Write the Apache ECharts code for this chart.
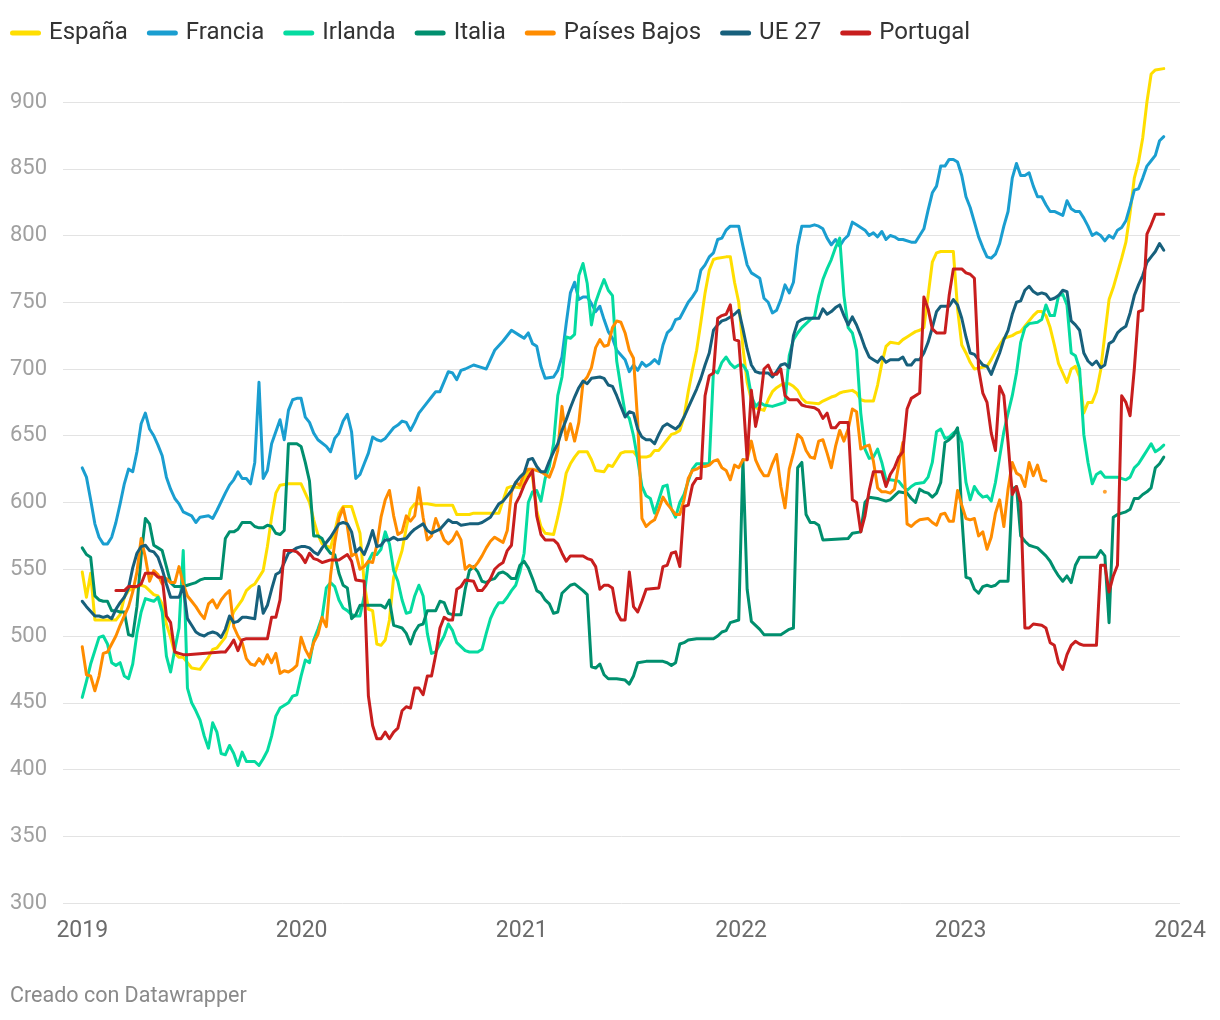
<!DOCTYPE html>
<html>
<head>
<meta charset="utf-8">
<script src="https://cdn.jsdelivr.net/npm/echarts@6/dist/echarts.min.js"></script>
<style>html,body{margin:0;padding:0;background:#fff}#chart{width:1220px;height:1020px}</style>
</head>
<body>
<div id="chart"></div>
<script>
// Week index (weeks since 1 Jan 2019) and value
const seriesNames = ['España', 'Francia', 'Irlanda', 'Italia', 'Países Bajos', 'UE 27', 'Portugal'];
const yearTicks = [2019, 2020, 2021, 2022, 2023, 2024];
const yTicks = [300, 350, 400, 450, 500, 550, 600, 650, 700, 750, 800, 850, 900];
const footerText = 'Creado con Datawrapper';

const espana = [[0,548],[1,529],[2,547],[3,512],[8,512],[9,516],[10,529],[11,534],[13,537],[14,538],[15,537],[16,534],[17,531],[18,530],[19,524],[20,509],[21,499],[22,487],[23,484],[24,484],[26,476],[28,475],[30,484],[31,490],[32,491],[34,499],[35,510],[36,518],[38,527],[39,534],[40,537],[41,539],[43,549],[44,567],[45,589],[46,607],[47,613],[49,614],[52,614],[53,607],[54,600],[55,587],[56,576],[57,569],[59,566],[60,578],[61,592],[62,597],[64,597],[65,587],[66,577],[67,540],[68,520],[69,519],[70,494],[71,493],[72,497],[73,512],[74,544],[76,564],[77,581],[78,595],[79,599],[82,599],[84,598],[88,598],[89,591],[92,591],[93,592],[99,592],[101,611],[102,612],[104,611],[105,617],[106,624],[107,619],[108,594],[109,582],[110,577],[112,576],[113,589],[114,604],[115,622],[116,629],[117,634],[118,638],[120,638],[121,632],[122,624],[124,623],[125,628],[126,627],[127,632],[128,637],[129,638],[131,638],[132,634],[134,634],[135,635],[136,639],[137,639],[138,643],[139,647],[140,651],[141,652],[142,654],[143,664],[144,683],[145,699],[146,714],[147,735],[148,757],[149,774],[150,782],[151,783],[153,784],[154,784],[155,765],[156,750],[157,716],[158,690],[159,677],[160,671],[162,669],[163,677],[164,683],[165,686],[166,688],[167,689],[168,689],[169,687],[170,684],[171,678],[172,675],[175,674],[176,676],[178,679],[179,680],[180,682],[181,683],[183,684],[184,682],[185,677],[186,676],[188,676],[189,688],[190,704],[191,717],[192,720],[194,719],[195,722],[196,724],[197,726],[198,728],[199,729],[200,731],[201,755],[202,780],[203,787],[204,788],[207,788],[208,745],[209,718],[210,712],[211,705],[212,700],[215,702],[216,707],[217,713],[218,718],[219,723],[221,725],[222,727],[223,728],[224,732],[225,736],[226,740],[227,743],[228,743],[229,740],[230,731],[231,718],[232,704],[233,697],[234,690],[235,700],[236,702],[237,694],[238,667],[239,675],[240,675],[241,683],[242,699],[243,726],[244,752],[245,761],[246,772],[247,783],[248,795],[249,817],[250,843],[251,855],[252,873],[253,900],[254,921],[255,924],[257,925]];

const francia = [[0,626],[1,619],[2,602],[3,584],[4,574],[5,569],[6,569],[7,574],[8,585],[9,599],[10,614],[11,625],[12,623],[13,638],[14,659],[15,667],[16,655],[17,650],[18,643],[19,635],[20,619],[21,610],[22,603],[23,599],[24,593],[26,590],[27,585],[28,589],[30,590],[31,588],[32,594],[34,607],[35,613],[36,617],[37,623],[38,618],[39,618],[40,614],[41,630],[42,690],[43,618],[44,624],[45,644],[47,662],[48,647],[49,669],[50,677],[51,678],[52,678],[53,664],[54,660],[55,652],[56,647],[58,642],[59,638],[60,648],[61,652],[62,661],[63,666],[64,653],[65,618],[66,621],[67,629],[68,637],[69,649],[70,647],[71,646],[72,648],[74,656],[75,658],[76,661],[77,660],[78,654],[79,660],[80,667],[82,675],[83,679],[84,683],[85,683],[87,698],[88,697],[89,692],[90,699],[91,700],[93,703],[95,701],[96,700],[97,707],[98,714],[100,721],[102,729],[104,725],[105,723],[106,727],[107,719],[108,717],[109,702],[110,693],[112,694],[113,699],[114,709],[115,734],[116,757],[117,765],[118,752],[119,754],[120,754],[121,749],[122,743],[123,747],[124,737],[125,728],[126,723],[127,714],[129,707],[130,698],[131,703],[132,699],[133,705],[134,702],[135,704],[136,707],[137,704],[138,718],[139,727],[140,730],[141,737],[142,738],[143,744],[144,750],[145,754],[146,759],[147,774],[148,778],[149,784],[150,787],[151,797],[152,798],[153,804],[154,807],[156,807],[157,792],[158,778],[159,772],[160,770],[161,768],[162,753],[163,750],[164,742],[165,744],[166,752],[167,763],[168,757],[169,765],[170,792],[171,807],[173,807],[174,808],[175,807],[176,805],[177,798],[178,793],[179,797],[180,792],[181,797],[182,800],[183,810],[184,808],[185,806],[186,804],[187,800],[188,802],[189,799],[190,803],[191,797],[192,800],[193,799],[194,797],[195,797],[197,795],[198,795],[199,800],[200,805],[201,819],[202,832],[203,837],[204,852],[205,852],[206,857],[207,857],[208,855],[209,845],[210,829],[211,821],[212,810],[213,799],[214,791],[215,784],[216,783],[217,786],[218,794],[219,807],[220,818],[221,843],[222,854],[223,845],[224,845],[225,847],[226,837],[227,829],[228,829],[229,823],[230,818],[231,818],[233,815],[234,826],[235,820],[236,818],[237,818],[238,813],[239,807],[240,800],[241,802],[242,800],[243,796],[244,800],[245,798],[246,804],[247,806],[248,811],[249,822],[250,834],[251,835],[252,843],[253,852],[254,856],[255,860],[256,871],[257,874]];

const irlanda = [[0,454],[1,466],[2,479],[4,499],[5,500],[6,494],[7,480],[8,478],[9,480],[10,470],[11,468],[12,479],[13,502],[14,518],[15,528],[16,527],[17,526],[18,529],[19,518],[20,485],[21,473],[22,490],[23,506],[24,564],[25,461],[26,450],[27,444],[28,437],[29,425],[30,416],[31,435],[32,428],[33,412],[34,411],[35,418],[36,412],[37,403],[38,413],[39,406],[41,406],[42,403],[43,408],[44,414],[45,425],[46,440],[47,446],[49,450],[50,455],[51,456],[52,470],[53,482],[54,480],[55,497],[56,505],[57,514],[58,536],[59,540],[60,537],[61,527],[62,521],[63,519],[64,516],[65,515],[66,515],[67,530],[68,556],[69,562],[70,561],[71,565],[72,578],[73,569],[74,549],[75,541],[76,527],[77,517],[78,518],[79,530],[80,538],[81,530],[82,502],[83,487],[84,488],[85,494],[86,500],[87,509],[88,504],[89,495],[90,492],[91,489],[92,488],[94,488],[95,490],[96,502],[97,513],[98,520],[99,525],[100,525],[101,529],[102,534],[103,538],[104,548],[105,562],[106,600],[107,608],[108,609],[109,601],[110,618],[111,627],[112,644],[113,680],[114,694],[115,724],[116,723],[117,726],[118,770],[119,779],[120,764],[121,733],[122,750],[123,759],[124,767],[125,759],[126,755],[127,706],[128,686],[129,667],[130,663],[131,650],[132,632],[133,612],[134,605],[135,603],[136,592],[137,602],[138,612],[139,613],[140,595],[141,589],[142,600],[143,606],[144,616],[145,625],[146,629],[149,629],[150,699],[151,697],[152,705],[153,709],[154,704],[155,701],[156,703],[157,703],[158,698],[159,680],[160,672],[161,675],[162,673],[164,672],[166,674],[167,675],[168,710],[169,722],[170,727],[171,731],[172,734],[173,737],[174,739],[175,755],[176,767],[177,775],[178,782],[179,791],[180,798],[181,755],[182,731],[183,727],[184,714],[185,667],[186,640],[187,633],[188,634],[189,640],[190,630],[191,617],[192,617],[194,616],[195,612],[196,609],[197,612],[198,614],[200,615],[201,619],[202,630],[203,653],[204,655],[205,648],[206,649],[207,652],[208,654],[209,645],[210,615],[211,602],[212,612],[213,607],[214,604],[215,605],[216,601],[217,615],[218,634],[219,653],[220,667],[221,680],[222,697],[223,720],[224,731],[225,734],[227,735],[228,737],[229,748],[230,740],[231,740],[232,755],[233,756],[234,748],[235,712],[236,710],[237,700],[238,651],[239,630],[240,614],[241,621],[242,623],[243,619],[246,619],[248,617],[249,619],[250,626],[251,629],[252,634],[253,639],[254,644],[255,638],[256,640],[257,643]];

const italia = [[0,566],[1,561],[2,559],[3,530],[4,527],[5,526],[6,526],[7,519],[8,519],[9,518],[10,518],[11,501],[12,500],[13,522],[14,560],[15,588],[16,584],[17,568],[18,566],[19,564],[20,552],[21,540],[22,537],[24,537],[25,538],[26,539],[27,540],[28,542],[29,543],[33,543],[34,573],[35,578],[36,578],[37,580],[38,585],[40,585],[41,582],[42,581],[43,581],[44,583],[45,582],[46,577],[47,576],[48,579],[49,644],[51,644],[52,642],[53,630],[54,616],[55,575],[56,575],[57,573],[58,566],[59,562],[60,561],[61,547],[62,538],[63,536],[64,513],[65,516],[66,523],[68,523],[70,523],[71,523],[72,521],[73,527],[74,508],[75,507],[76,506],[77,502],[78,494],[79,503],[80,508],[81,509],[82,519],[84,519],[85,526],[86,525],[87,517],[88,516],[90,516],[91,535],[92,549],[93,552],[94,548],[95,541],[96,540],[97,542],[98,543],[99,547],[100,548],[101,546],[102,543],[103,543],[104,553],[105,556],[106,551],[107,543],[108,534],[109,532],[110,527],[111,524],[112,517],[113,518],[114,532],[115,535],[116,538],[117,539],[119,534],[120,531],[121,477],[122,476],[123,479],[124,471],[125,468],[127,468],[129,467],[130,464],[131,470],[132,480],[134,481],[136,481],[138,481],[139,480],[140,478],[141,480],[142,494],[143,495],[144,497],[146,498],[148,498],[150,498],[151,500],[152,503],[153,504],[154,510],[156,512],[157,632],[158,535],[159,511],[160,508],[161,505],[162,501],[166,501],[167,503],[168,505],[169,506],[170,626],[171,630],[172,591],[173,585],[174,585],[175,583],[176,572],[182,573],[183,577],[185,578],[186,600],[187,604],[189,603],[190,602],[191,601],[192,602],[193,605],[194,608],[196,607],[197,603],[198,600],[199,610],[200,608],[201,607],[202,604],[203,607],[204,615],[205,645],[206,647],[207,650],[208,656],[209,590],[210,544],[211,543],[212,535],[213,532],[214,537],[215,538],[216,537],[217,538],[218,541],[220,541],[221,610],[222,612],[223,575],[224,571],[225,568],[226,567],[227,566],[228,563],[229,560],[230,556],[231,550],[232,545],[233,541],[234,545],[235,540],[236,553],[237,559],[241,559],[242,564],[243,560],[244,510],[245,589],[246,591],[247,592],[248,593],[249,595],[250,603],[251,603],[252,606],[253,608],[254,611],[255,626],[256,629],[257,634]];

const paisesBajos = [[0,492],[1,471],[2,470],[3,459],[4,470],[5,487],[6,488],[7,494],[8,500],[9,508],[10,515],[11,522],[12,533],[13,548],[14,573],[15,559],[16,541],[17,549],[18,546],[19,539],[20,543],[21,540],[22,540],[23,552],[24,539],[25,530],[26,526],[27,522],[28,517],[29,513],[30,524],[31,527],[32,521],[33,527],[34,531],[35,534],[36,507],[37,500],[38,495],[39,483],[40,479],[41,478],[42,483],[43,479],[44,486],[45,480],[46,487],[47,472],[48,474],[49,473],[50,475],[51,478],[52,499],[53,490],[54,484],[55,495],[56,501],[57,514],[58,507],[59,545],[60,570],[61,588],[62,596],[63,582],[64,560],[65,562],[66,550],[67,552],[68,556],[69,555],[70,568],[71,589],[72,602],[73,609],[74,590],[75,576],[76,578],[77,590],[78,586],[79,590],[80,611],[81,589],[82,572],[83,575],[84,588],[85,580],[86,572],[87,569],[88,572],[89,578],[90,572],[91,550],[92,553],[93,551],[94,555],[95,560],[96,566],[97,571],[98,574],[99,572],[100,570],[101,579],[102,608],[103,615],[104,613],[105,622],[106,625],[107,625],[108,624],[109,623],[110,621],[111,619],[112,627],[113,639],[114,672],[115,647],[116,659],[117,646],[118,660],[119,690],[120,694],[121,701],[122,716],[123,722],[124,717],[125,718],[126,731],[127,736],[128,735],[129,727],[130,714],[131,708],[132,660],[133,588],[134,582],[135,585],[136,587],[137,595],[138,604],[139,599],[140,595],[141,591],[142,591],[143,602],[144,618],[145,624],[146,625],[147,627],[148,627],[149,628],[150,631],[151,632],[152,626],[153,624],[154,617],[155,628],[156,626],[157,632],[158,632],[159,646],[160,632],[161,625],[162,620],[163,620],[164,629],[165,636],[166,612],[167,596],[168,625],[169,637],[170,651],[171,648],[172,639],[173,634],[174,633],[175,646],[176,647],[177,637],[178,626],[179,642],[180,654],[181,646],[182,655],[183,670],[184,668],[185,640],[186,642],[187,643],[188,631],[189,611],[190,608],[191,608],[192,607],[193,610],[194,628],[195,645],[196,584],[197,582],[198,585],[199,587],[201,588],[202,585],[203,583],[204,591],[205,592],[206,586],[207,586],[208,609],[209,598],[210,588],[211,587],[212,588],[213,575],[214,578],[215,565],[216,574],[217,592],[218,602],[219,582],[220,610],[221,630],[222,622],[223,620],[224,612],[225,630],[226,620],[227,628],[228,617],[229,616]];
const paisesBajosSuelto = [[243,608]];

const ue27 = [[0,526],[1,522],[3,515],[4,515],[5,514],[6,515],[7,513],[8,520],[9,525],[10,529],[11,536],[12,551],[13,562],[14,567],[15,568],[16,564],[17,563],[18,559],[19,550],[20,539],[21,529],[23,529],[24,537],[25,513],[26,508],[27,503],[28,501],[29,500],[30,502],[31,503],[32,502],[33,499],[34,505],[35,515],[36,510],[37,511],[38,514],[39,514],[41,513],[42,537],[43,517],[44,523],[45,535],[46,546],[47,548],[48,555],[49,562],[50,564],[51,566],[52,567],[53,567],[54,566],[55,563],[56,561],[57,566],[58,570],[59,574],[60,579],[61,584],[62,585],[63,584],[64,578],[65,563],[66,566],[67,561],[68,569],[69,579],[70,567],[71,568],[72,572],[73,572],[74,574],[75,572],[77,573],[78,577],[79,580],[80,582],[81,584],[82,579],[83,577],[85,580],[87,587],[88,585],[89,585],[90,583],[92,584],[94,584],[95,585],[97,589],[98,594],[99,599],[100,601],[101,605],[102,609],[103,615],[104,619],[105,622],[106,632],[107,633],[108,627],[109,623],[110,623],[111,631],[112,638],[113,644],[114,654],[115,662],[116,671],[117,679],[118,686],[119,691],[120,689],[121,693],[123,694],[124,693],[125,688],[126,687],[127,680],[128,672],[129,664],[130,668],[131,667],[132,655],[133,649],[134,647],[135,647],[136,644],[137,651],[138,657],[139,659],[140,657],[141,655],[142,658],[143,664],[144,671],[145,678],[146,685],[147,693],[148,703],[149,712],[150,729],[151,733],[152,736],[153,737],[154,739],[155,741],[156,744],[157,730],[158,715],[159,703],[160,698],[161,697],[163,697],[164,694],[165,698],[166,703],[167,704],[168,701],[169,725],[170,735],[171,737],[172,738],[175,738],[176,745],[177,741],[178,743],[179,746],[180,748],[181,740],[182,733],[183,739],[184,733],[185,725],[186,716],[187,709],[188,707],[189,705],[190,709],[191,705],[192,707],[194,707],[195,709],[196,703],[197,703],[198,707],[199,707],[200,712],[201,720],[202,731],[203,743],[204,747],[206,747],[207,752],[208,748],[209,738],[210,724],[211,712],[212,711],[213,707],[214,703],[215,702],[216,696],[217,704],[218,712],[219,722],[220,729],[221,741],[222,750],[223,751],[224,759],[225,762],[226,758],[227,756],[228,757],[229,756],[230,752],[231,753],[232,755],[233,759],[234,758],[235,736],[236,733],[237,729],[238,712],[239,706],[240,703],[241,706],[242,701],[243,703],[244,719],[245,721],[246,727],[247,730],[248,732],[249,742],[250,755],[251,763],[252,770],[253,780],[254,784],[255,788],[256,794],[257,789]];

const portugal = [[8,534],[10,534],[11,537],[13,537],[14,539],[15,547],[17,547],[18,544],[19,544],[20,515],[21,510],[22,488],[23,487],[24,486],[25,486],[33,488],[34,488],[35,492],[36,497],[37,489],[38,497],[39,498],[44,498],[45,514],[46,514],[47,527],[48,564],[50,564],[51,563],[52,560],[53,555],[54,562],[55,558],[56,557],[57,555],[58,556],[59,557],[61,557],[62,559],[63,561],[64,556],[65,542],[67,541],[68,455],[69,433],[70,423],[71,423],[72,428],[73,423],[74,428],[75,431],[76,444],[77,447],[78,446],[79,461],[80,461],[81,456],[82,470],[83,470],[84,486],[85,506],[86,514],[87,512],[88,512],[89,535],[90,537],[91,542],[93,541],[94,534],[95,534],[96,538],[97,543],[98,550],[99,553],[100,555],[101,564],[102,568],[103,599],[104,605],[105,613],[106,619],[107,624],[108,590],[109,576],[110,572],[112,572],[113,569],[114,562],[115,556],[116,560],[119,560],[120,558],[121,557],[122,552],[123,535],[124,538],[125,538],[126,536],[127,518],[128,512],[129,512],[130,548],[131,522],[132,518],[133,526],[134,535],[137,536],[138,552],[139,553],[140,562],[141,563],[142,552],[143,597],[144,598],[145,613],[146,618],[147,618],[148,680],[149,695],[150,697],[151,738],[152,740],[153,741],[154,748],[155,722],[156,721],[157,680],[158,632],[159,684],[160,657],[161,672],[162,700],[163,703],[164,696],[165,696],[166,700],[167,680],[168,677],[170,677],[171,673],[172,672],[174,671],[175,669],[176,663],[177,667],[178,656],[179,656],[180,660],[182,660],[183,602],[184,600],[185,578],[186,590],[187,609],[188,623],[190,623],[191,612],[192,621],[193,626],[194,634],[195,638],[196,670],[197,678],[199,682],[200,754],[201,745],[202,730],[203,727],[205,727],[206,755],[207,775],[209,775],[210,772],[211,771],[212,768],[213,700],[214,682],[215,675],[216,652],[217,639],[218,687],[219,680],[220,645],[221,606],[222,612],[223,600],[224,506],[225,506],[226,509],[228,508],[229,506],[230,495],[231,493],[232,480],[233,475],[234,486],[235,493],[236,496],[237,494],[238,493],[241,493],[242,553],[243,553],[244,533],[245,545],[246,553],[247,680],[248,675],[249,665],[250,700],[251,743],[252,744],[253,801],[254,808],[255,816],[257,816]];

const seriesData = [espana, francia, irlanda, italia, paisesBajos, ue27, portugal];
const palette = ['#ffde00', '#1a9ed0', '#05dba0', '#008f6e', '#ff8c00', '#17607c', '#c81e1e'];

const DAY = 86400000;
const week0 = Date.UTC(2019, 0, 1);
const toTime = w => week0 + w * 7 * DAY;
const toPoints = arr => arr.map(([w, v]) => [toTime(w), v]);

const chart = echarts.init(document.getElementById('chart'), null, { renderer: 'canvas' });
const FONT = 'Roboto, "Noto Sans", sans-serif';

const series = seriesNames.map((name, i) => ({
  name,
  type: 'line',
  data: toPoints(seriesData[i]),
  color: palette[i],
  showSymbol: false,
  symbol: 'none',
  clip: false,
  lineStyle: { width: 3, color: palette[i], cap: 'round', join: 'round' },
  emphasis: { disabled: true },
  animation: false,
  z: 2 + i
}));
series.push({
  name: 'Países Bajos (suelto)',
  type: 'scatter',
  data: toPoints(paisesBajosSuelto),
  symbolSize: 4,
  itemStyle: { color: palette[4] },
  animation: false,
  z: 2
});

chart.setOption({
  animation: false,
  backgroundColor: '#ffffff',
  textStyle: { fontFamily: FONT },
  legend: {
    data: seriesNames,
    left: 5,
    top: 16,
    itemWidth: 31,
    itemHeight: 5,
    itemGap: 19,
    icon: 'path://M2.5,0H28.5A2.5,2.5,0,0,1,28.5,5H2.5A2.5,2.5,0,0,1,2.5,0Z',
    textStyle: { fontSize: 24, color: '#333333', fontFamily: FONT, padding: [0, 0, 0, 3] },
    selectedMode: false
  },
  grid: { left: 63, right: 40, top: 102, bottom: 117, containLabel: false },
  xAxis: {
    type: 'value',
    min: Date.UTC(2018, 10, 30),
    max: Date.UTC(2024, 0, 1),
    axisLine: { show: false },
    axisTick: { show: false },
    splitLine: { show: false },
    axisLabel: {
      customValues: yearTicks.map(y => Date.UTC(y, 0, 1)),
      formatter: v => String(new Date(v).getUTCFullYear()),
      fontSize: 23,
      color: '#6b6b6b',
      fontFamily: FONT,
      margin: 17
    }
  },
  yAxis: {
    type: 'value',
    min: yTicks[0],
    max: yTicks[yTicks.length - 1],
    interval: 50,
    axisLine: { show: false },
    axisTick: { show: false },
    splitLine: { show: true, lineStyle: { color: '#e3e3e3', width: 1 } },
    axisLabel: {
      fontSize: 22,
      color: '#a0a0a0',
      fontFamily: FONT,
      align: 'left',
      margin: 53
    }
  },
  graphic: [{
    type: 'text',
    left: 10,
    top: 986,
    style: { text: footerText, fontSize: 21.5, fill: '#8a8a8a', fontFamily: FONT }
  }],
  series
});
</script>
</body>
</html>
